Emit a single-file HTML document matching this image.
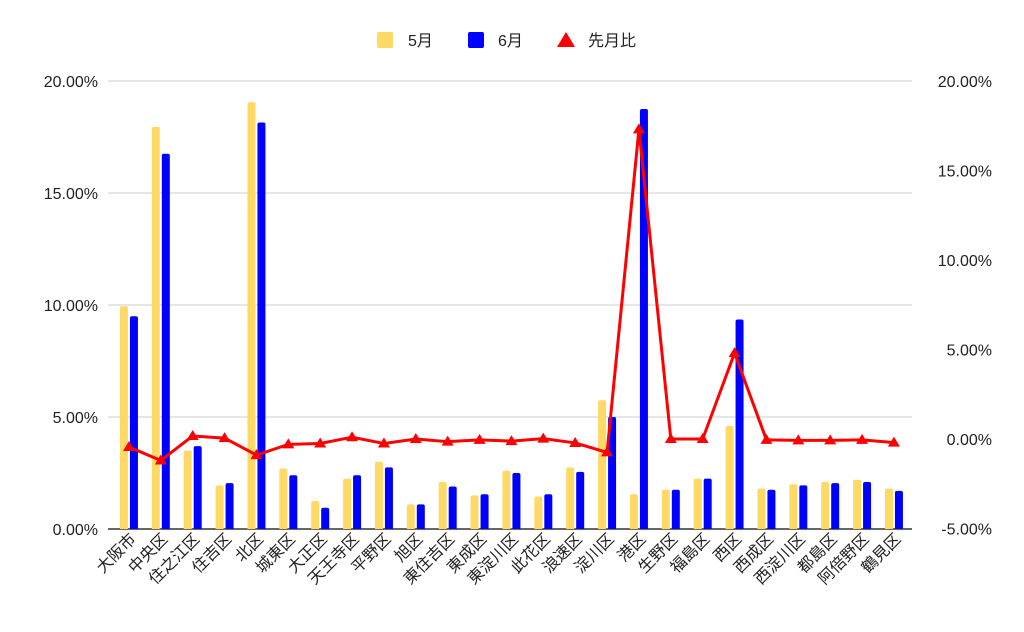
<!DOCTYPE html>
<html><head><meta charset="utf-8"><style>
body{margin:0;background:#fff}
svg{display:block;font-family:"Liberation Sans","Noto Sans CJK JP",sans-serif}
</style></head><body>
<svg id="chart" width="1024" height="632" viewBox="0 0 1024 632" xmlns="http://www.w3.org/2000/svg">
<g id="legend" font-size="16" fill="#222">
 <g><rect x="377" y="32" width="16" height="16" rx="2" fill="#ffd966"/><text x="408" y="46">5月</text></g>
 <g><rect x="468" y="32" width="16" height="16" rx="2" fill="#0000ff"/><text x="498" y="46">6月</text></g>
 <g><polygon points="566,32 575,47 557,47" fill="#ff0000"/><text x="588" y="46">先月比</text></g>
</g>
<g id="grid"></g>
<g id="bars"></g>
<g id="line"></g>
<g id="xlabels"></g>
</svg>
<script>
const categories=["大阪市","中央区","住之江区","住吉区","北区","城東区","大正区","天王寺区","平野区","旭区","東住吉区","東成区","東淀川区","此花区","浪速区","淀川区","港区","生野区","福島区","西区","西成区","西淀川区","都島区","阿倍野区","鶴見区"];
const may=[9.95,17.95,3.5,1.95,19.05,2.7,1.25,2.25,3.0,1.1,2.1,1.5,2.6,1.45,2.75,5.75,1.55,1.75,2.25,4.6,1.8,2.0,2.1,2.2,1.8];
const june=[9.5,16.75,3.7,2.05,18.15,2.4,0.95,2.4,2.75,1.1,1.9,1.55,2.5,1.55,2.55,5.0,18.75,1.75,2.25,9.35,1.75,1.95,2.05,2.1,1.7];
const ratio=[-0.45,-1.2,0.17,0.05,-0.9,-0.3,-0.25,0.1,-0.25,0.0,-0.15,-0.05,-0.12,0.02,-0.22,-0.75,17.3,0,0,4.8,-0.05,-0.08,-0.08,-0.05,-0.2];
const leftTicks=[0,5,10,15,20];
const rightTicks=[-5,0,5,10,15,20];
const NS="http://www.w3.org/2000/svg";
const X0=113,STEP=31.875;
const yL=v=>529-v*22.4;
const yR=v=>439-v*17.9;
const xC=i=>X0+STEP*(i+0.5);
function mk(t,a,p){const e=document.createElementNS(NS,t);for(const k in a)e.setAttribute(k,a[k]);p.appendChild(e);return e;}
const grid=document.getElementById('grid');
leftTicks.forEach(v=>{
 const y=yL(v);
 const l=mk('line',{x1:108,x2:912,y1:y,y2:y,stroke:v===0?'#333':'#ccc','stroke-width':v===0?1.5:1},grid);
 
 
 const t=mk('text',{x:98,y:y+6,'text-anchor':'end','font-size':16,fill:'#222'},grid);
 t.textContent=v.toFixed(2)+'%';
 
 
});
rightTicks.forEach(v=>{
 const t=mk('text',{x:992,y:yR(v)+6,'text-anchor':'end','font-size':16,fill:'#222'},grid);
 t.textContent=v.toFixed(2)+'%';
 
 
});
const bars=document.getElementById('bars');
categories.forEach((c,i)=>{
 const cx=xC(i);
 [[may[i],'#ffd966',-9],[june[i],'#0000ff',1]].forEach(([v,col,off],k)=>{
  const y=yL(v);
  const r=mk('path',{d:`M${cx+off},529 V${y+2} Q${cx+off},${y} ${cx+off+2},${y} H${cx+off+6} Q${cx+off+8},${y} ${cx+off+8},${y+2} V529 Z`,fill:col},bars);
  
  
 });
 const t=mk('text',{transform:`translate(${cx+8},540) rotate(-45)`,'text-anchor':'end','font-size':16,fill:'#222'},document.getElementById('xlabels'));
 t.textContent=c;
 
 
});
const line=document.getElementById('line');
const pl=mk('polyline',{points:ratio.map((v,i)=>xC(i)+','+yR(v)).join(' '),fill:'none',stroke:'#ff0000','stroke-width':3,'stroke-linejoin':'round'},line);


ratio.forEach((v,i)=>{
 const x=xC(i),y=yR(v);
 const p=mk('polygon',{points:`${x},${y-6} ${x+6},${y+4} ${x-6},${y+4}`,fill:'#ff0000'},line);
 
 
});
</script>
</body></html>
